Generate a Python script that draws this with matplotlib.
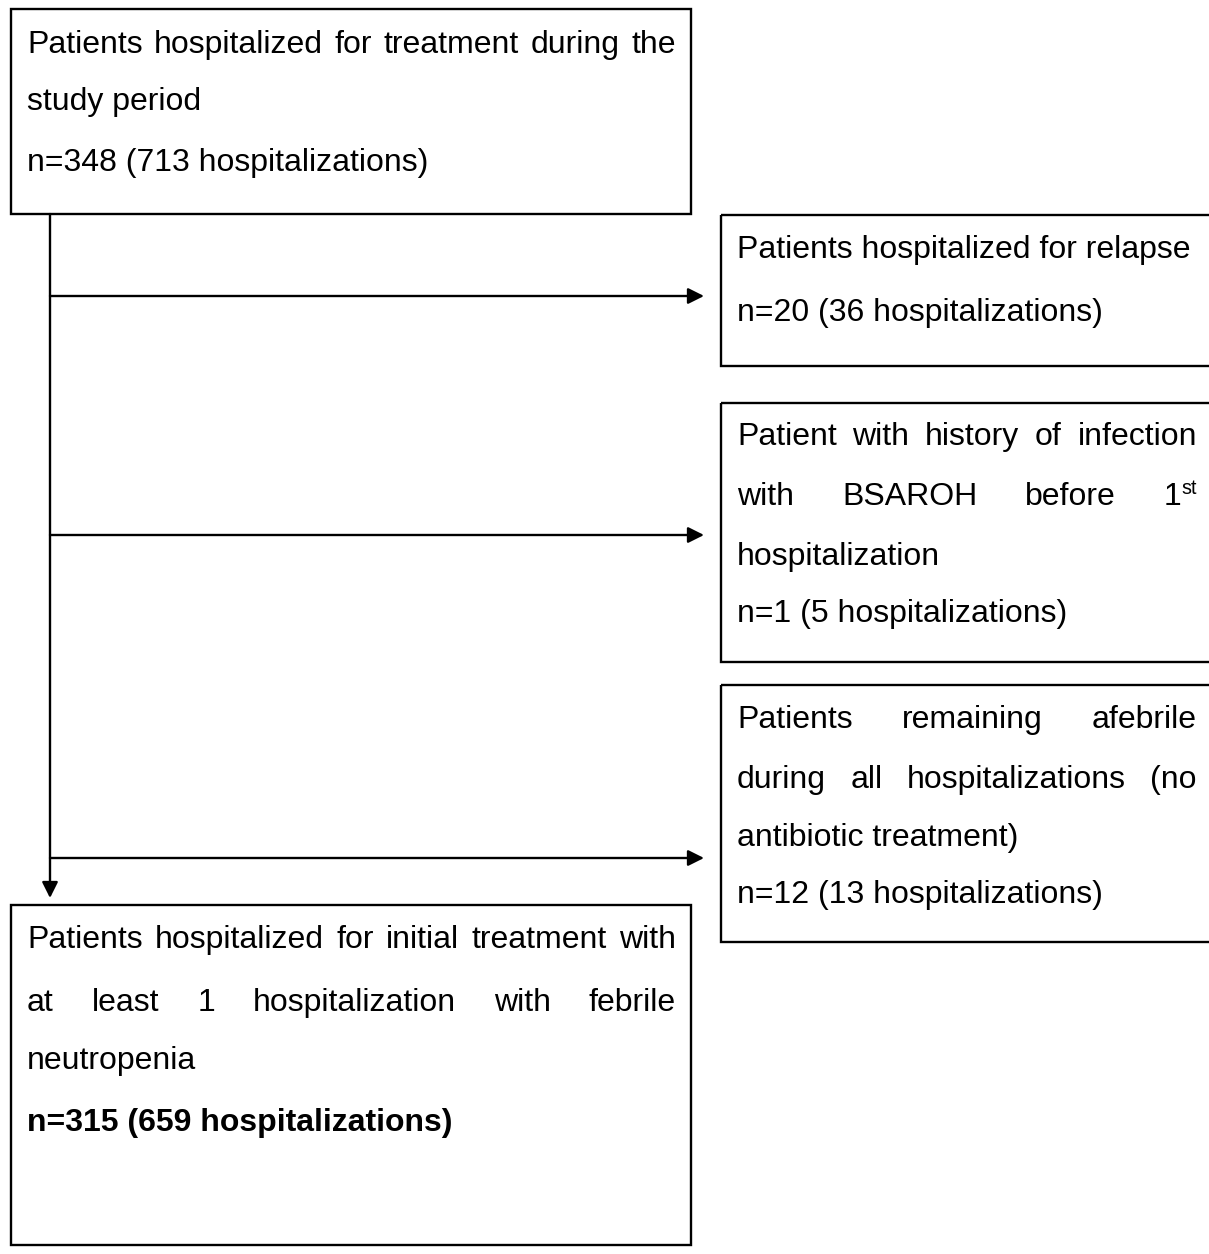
import matplotlib
matplotlib.use('Agg')
import matplotlib.pyplot as plt
from matplotlib.patches import Rectangle

plt.rcParams['font.family'] = ['Liberation Sans', 'DejaVu Sans']

W, H = 1209, 1254
fs = 23

# text of the flowchart, wrapped the way the picture wraps it
top_lines = ["Patients hospitalized for treatment during the", "study period"]
relapse_lines = ["Patients hospitalized for relapse"]
history_lines = ["Patient with history of infection", "with BSAROH before 1^st", "hospitalization"]
afebrile_lines = ["Patients remaining afebrile", "during all hospitalizations (no", "antibiotic treatment)"]
final_lines = ["Patients hospitalized for initial treatment with",
               "at least 1 hospitalization with febrile", "neutropenia"]

patients = [348, 20, 1, 12, 315]
hospitalizations = [713, 36, 5, 13, 659]

fig = plt.figure(figsize=(W / 100, H / 100), dpi=100)
ax = fig.add_axes([0, 0, 1, 1])
ax.set_xlim(0, W)
ax.set_ylim(H, 0)
ax.axis('off')
rend = fig.canvas.get_renderer()


def width(s, size=fs, weight='normal'):
    t = ax.text(0, 0, s, fontsize=size, fontweight=weight)
    w = t.get_window_extent(rend).width
    t.remove()
    return w


def word_parts(w):
    if '^' in w:
        return w.split('^')
    return w, ''


def draw_line(x0, x1, y, s, justify=False, weight='normal'):
    if not justify:
        ax.text(x0, y, s, fontsize=fs, fontweight=weight, va='center', ha='left')
        return
    words = s.split()
    parts = [word_parts(w) for w in words]
    ws = [width(b, weight=weight) + (width(sp, size=fs * 0.62) if sp else 0) for b, sp in parts]
    gap = (x1 - x0 - sum(ws)) / (len(words) - 1)
    x = x0
    for (b, sp), wd in zip(parts, ws):
        ax.text(x, y, b, fontsize=fs, fontweight=weight, va='center', ha='left')
        if sp:
            ax.text(x + width(b), y - 9, sp, fontsize=fs * 0.62, va='center', ha='left')
        x += wd + gap


def box(x0, y0, x1, y1):
    ax.add_patch(Rectangle((x0, y0), x1 - x0, y1 - y0, fill=False, lw=1.7, ec='black'))


def paragraph(lines, x0, x1, ys):
    for i, s in enumerate(lines):
        draw_line(x0, x1, ys[i], s, justify=(i < len(lines) - 1))


def count(i):
    return "n=%d (%d hospitalizations)" % (patients[i], hospitalizations[i])


# left column
box(11, 9, 691, 214)
paragraph(top_lines, 27, 676, [45, 102])
draw_line(27, 676, 163, count(0))

box(11, 905, 691, 1245)
paragraph(final_lines, 27, 676, [940, 1003, 1061])
draw_line(27, 676, 1123, count(4), weight='bold')

# right column, boxes run off the right edge
box(721, 215, 1220, 366)
paragraph(relapse_lines, 737, 1197, [250])
draw_line(737, 1197, 313, count(1))

box(721, 403, 1220, 662)
paragraph(history_lines, 737, 1197, [437, 497, 557])
draw_line(737, 1197, 614, count(2))

box(721, 685, 1220, 942)
paragraph(afebrile_lines, 737, 1197, [720, 780, 838])
draw_line(737, 1197, 895, count(3))

# arrows
ap = dict(arrowstyle='-|>', lw=1.7, color='black', mutation_scale=24, shrinkA=0, shrinkB=0)
ax.annotate('', xy=(50, 898), xytext=(50, 214), arrowprops=ap)
for y in [296, 535, 858]:
    ax.annotate('', xy=(704, y), xytext=(50, y), arrowprops=ap)

fig.savefig('out.png', dpi=100)
